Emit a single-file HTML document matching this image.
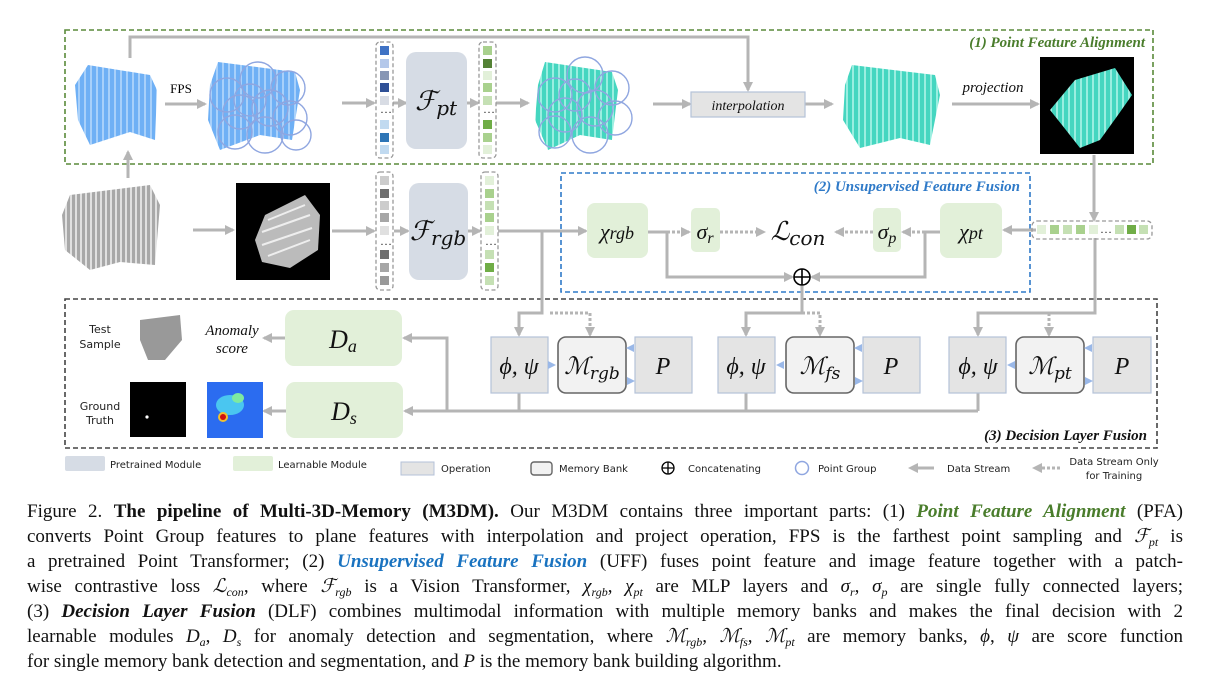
<!DOCTYPE html>
<html><head><meta charset="utf-8"><style>
body{margin:0;background:#fff;width:1209px;height:700px;overflow:hidden;position:relative}
svg{position:absolute;left:0;top:0}
.cap{position:absolute;left:27px;width:1156px;font:19px/25px "Liberation Serif",serif;color:#111;text-align:justify;text-align-last:justify;white-space:nowrap}
.cap.l{text-align-last:left}
.g{color:#4a7d2c;font-weight:bold;font-style:italic}
.b{color:#1a73c0;font-weight:bold;font-style:italic}
i{font-style:italic}
sub{font-size:12px;vertical-align:-4px;line-height:0}
</style></head><body>
<svg width="1209" height="500" viewBox="0 0 1209 500" font-family="Liberation Serif, serif">
<defs>
<marker id="a" markerWidth="10" markerHeight="10" refX="8" refY="5" orient="auto" markerUnits="userSpaceOnUse"><path d="M0,0 L10,5 L0,10z" fill="#b5b5b5"/></marker>
<pattern id="pb" width="6" height="4" patternUnits="userSpaceOnUse"><rect width="6" height="4" fill="#6fb0f5"/><rect width="2" height="4" fill="#a8d0fa"/></pattern>
<pattern id="pt" width="6" height="4" patternUnits="userSpaceOnUse"><rect width="6" height="4" fill="#45d6c0"/><rect width="2" height="4" fill="#9aeee0"/></pattern>
<pattern id="pg" width="5" height="4" patternUnits="userSpaceOnUse"><rect width="5" height="4" fill="#a8a8a8"/><rect width="2" height="4" fill="#e0e0e0"/></pattern>
</defs>
<!-- boxes -->
<rect x="65" y="30" width="1088" height="134" fill="none" stroke="#5a8a3a" stroke-width="1.6" stroke-dasharray="5,3"/>
<text x="1145" y="47" text-anchor="end" font-size="15" font-style="italic" font-weight="bold" fill="#4a7d2c">(1) Point Feature Alignment</text>
<rect x="561" y="173" width="469" height="119" fill="none" stroke="#2f7ac8" stroke-width="1.6" stroke-dasharray="5,3"/>
<text x="1020" y="191" text-anchor="end" font-size="15" font-style="italic" font-weight="bold" fill="#2f7ac8">(2) Unsupervised Feature Fusion</text>
<rect x="65" y="299" width="1092" height="149" fill="none" stroke="#444" stroke-width="1.6" stroke-dasharray="5,3"/>
<text x="1147" y="440" text-anchor="end" font-size="15" font-style="italic" font-weight="bold" fill="#111">(3) Decision Layer Fusion</text>

<g stroke="#b5b5b5" stroke-width="3" fill="none">
<!-- top -->
<path d="M130,58 V37 H748 V90" marker-end="url(#a)"/>
<path d="M128,178 V152" marker-end="url(#a)"/>
<path d="M165,104 H205" marker-end="url(#a)"/>
<path d="M342,103 H374" marker-end="url(#a)"/>
<path d="M393,103 H406" marker-end="url(#a)"/>
<path d="M466,103 H478" marker-end="url(#a)"/>
<path d="M496,103 H528" marker-end="url(#a)"/>
<path d="M653,104 H690" marker-end="url(#a)"/>
<path d="M805,104 H832" marker-end="url(#a)"/>
<path d="M952,104 H1038" marker-end="url(#a)"/>
<path d="M1094,155 V220" marker-end="url(#a)"/>
<!-- row 2 -->
<path d="M193,230 H233" marker-end="url(#a)"/>
<path d="M332,231 H374" marker-end="url(#a)"/>
<path d="M394,231 H408" marker-end="url(#a)"/>
<path d="M467,231 H480" marker-end="url(#a)"/>
<path d="M498,231 H586" marker-end="url(#a)"/>
<path d="M542,231 V313 H519 V335" marker-end="url(#a)"/>
<path d="M648,232 H667 V277 H792" marker-end="url(#a)"/>
<path d="M940,232 H925 V277 H812" marker-end="url(#a)"/>
<path d="M1036,230 H1004" marker-end="url(#a)"/>
<path d="M802,286 V313 H746 V335" marker-end="url(#a)"/>
<path d="M1095,238 V313 H978 V335" marker-end="url(#a)"/>
<!-- bottom -->
<path d="M519,393 V411 M746,393 V411 M978,393 V411"/>
<path d="M978,411 H405" marker-end="url(#a)"/>
<path d="M447,411 V338 H404" marker-end="url(#a)"/>
<path d="M285,338 H264" marker-end="url(#a)"/>
<path d="M286,411 H264" marker-end="url(#a)"/>
</g>
<g stroke="#b5b5b5" stroke-width="3" fill="none" stroke-dasharray="3,2">
<path d="M667,232 H689" marker-end="url(#a)"/>
<path d="M720,232 H764" marker-end="url(#a)"/>
<path d="M873,232 H836" marker-end="url(#a)"/>
<path d="M940,232 H903" marker-end="url(#a)"/>
<path d="M550,313 H590 V335" marker-end="url(#a)"/>
<path d="M802,313 H820 V335" marker-end="url(#a)"/>
<path d="M1049,313 V335" marker-end="url(#a)"/>
</g>

<!-- point clouds -->
<path d="M88,65 L150,75 L157,90 L155,140 L130,132 L90,145 L78,120 L75,85z" fill="url(#pb)"/>
<path d="M218,62 L295,72 L300,90 L292,140 L260,135 L220,150 L208,120 L210,85z" fill="url(#pb)"/>
<g fill="none" stroke="#8fa6e0" stroke-width="1.4">
<circle cx="227" cy="95" r="17"/><circle cx="258" cy="80" r="18"/><circle cx="288" cy="88" r="17"/><circle cx="270" cy="108" r="18"/><circle cx="240" cy="112" r="17"/><circle cx="290" cy="118" r="17"/><circle cx="235" cy="132" r="17"/><circle cx="265" cy="135" r="18"/><circle cx="296" cy="135" r="15"/><circle cx="250" cy="100" r="16"/>
</g>
<path d="M545,62 L612,72 L618,90 L612,140 L580,135 L548,150 L535,120 L538,85z" fill="url(#pt)"/>
<g fill="none" stroke="#8fa6e0" stroke-width="1.4">
<circle cx="555" cy="95" r="17"/><circle cx="585" cy="75" r="18"/><circle cx="612" cy="88" r="17"/><circle cx="595" cy="108" r="18"/><circle cx="565" cy="115" r="17"/><circle cx="615" cy="118" r="17"/><circle cx="555" cy="132" r="16"/><circle cx="590" cy="135" r="18"/><circle cx="575" cy="95" r="16"/>
</g>
<path d="M852,65 L935,75 L940,95 L930,145 L900,138 L860,148 L843,120 L845,85z" fill="url(#pt)"/>
<rect x="1040" y="57" width="94" height="97" fill="#000"/>
<path d="M1075,80 L1115,68 L1132,95 L1118,115 L1100,140 L1080,148 L1062,125 L1050,110z" fill="url(#pt)"/>
<path d="M70,195 L150,185 L160,205 L155,265 L120,262 L90,270 L65,250 L62,215z" fill="url(#pg)"/>
<rect x="236" y="183" width="94" height="97" fill="#000"/>
<path d="M265,215 L305,195 L320,215 L318,250 L290,268 L262,262 L255,240z" fill="#bbb"/>
<path d="M268,220 L305,205 M262,232 L310,215 M262,245 L312,228 M268,256 L310,240" stroke="#eee" stroke-width="2"/>
<path d="M140,320 L180,315 L182,340 L165,360 L148,360 L140,340z" fill="#999"/>
<rect x="130" y="382" width="56" height="55" fill="#000"/><circle cx="147" cy="417" r="1.6" fill="#fff"/>
<rect x="207" y="382" width="56" height="56" fill="#2b6cf0"/>
<ellipse cx="230" cy="405" rx="14" ry="10" fill="#4ac6f0"/><ellipse cx="238" cy="398" rx="6" ry="5" fill="#7ee9a0"/><circle cx="223" cy="417" r="5" fill="#f0c030"/><circle cx="223" cy="417" r="3" fill="#d01010"/>

<!-- vector columns -->
<g stroke="#999" stroke-width="1.3" stroke-dasharray="4,2.5" fill="none">
<rect x="376" y="42" width="17" height="116" rx="4"/><rect x="479" y="42" width="17" height="116" rx="4"/>
<rect x="376" y="172" width="17" height="118" rx="4"/><rect x="481" y="172" width="17" height="118" rx="4"/>
<rect x="1032" y="221" width="120" height="18" rx="5"/>
</g>
<g>
<rect x="380" y="46" width="9" height="9" fill="#3f72c4"/><rect x="380" y="59" width="9" height="9" fill="#b4c8ea"/><rect x="380" y="71" width="9" height="9" fill="#8796b4"/><rect x="380" y="83" width="9" height="9" fill="#2f5096"/><rect x="380" y="96" width="9" height="9" fill="#d8dce4"/><rect x="380" y="120" width="9" height="9" fill="#c1daf0"/><rect x="380" y="133" width="9" height="9" fill="#2e75b6"/><rect x="380" y="145" width="9" height="9" fill="#c1daf0"/>
<rect x="483" y="46" width="9" height="9" fill="#a9d18e"/><rect x="483" y="59" width="9" height="9" fill="#548235"/><rect x="483" y="71" width="9" height="9" fill="#e2f0d9"/><rect x="483" y="83" width="9" height="9" fill="#a9d18e"/><rect x="483" y="96" width="9" height="9" fill="#c5e0b4"/><rect x="483" y="120" width="9" height="9" fill="#70ad47"/><rect x="483" y="133" width="9" height="9" fill="#a9d18e"/><rect x="483" y="145" width="9" height="9" fill="#e2f0d9"/>
<rect x="380" y="176" width="9" height="9" fill="#ccc"/><rect x="380" y="189" width="9" height="9" fill="#6e6e6e"/><rect x="380" y="201" width="9" height="9" fill="#ccc"/><rect x="380" y="213" width="9" height="9" fill="#a6a6a6"/><rect x="380" y="226" width="9" height="9" fill="#e0e0e0"/><rect x="380" y="250" width="9" height="9" fill="#6e6e6e"/><rect x="380" y="263" width="9" height="9" fill="#a6a6a6"/><rect x="380" y="276" width="9" height="9" fill="#999"/>
<rect x="485" y="176" width="9" height="9" fill="#e2f0d9"/><rect x="485" y="189" width="9" height="9" fill="#a9d18e"/><rect x="485" y="201" width="9" height="9" fill="#c5e0b4"/><rect x="485" y="213" width="9" height="9" fill="#a9d18e"/><rect x="485" y="226" width="9" height="9" fill="#e2f0d9"/><rect x="485" y="250" width="9" height="9" fill="#c5e0b4"/><rect x="485" y="263" width="9" height="9" fill="#70ad47"/><rect x="485" y="276" width="9" height="9" fill="#c5e0b4"/>
<rect x="1037" y="225" width="9" height="9" fill="#e2f0d9"/><rect x="1050" y="225" width="9" height="9" fill="#a9d18e"/><rect x="1063" y="225" width="9" height="9" fill="#c5e0b4"/><rect x="1076" y="225" width="9" height="9" fill="#a9d18e"/><rect x="1089" y="225" width="9" height="9" fill="#e2f0d9"/><rect x="1115" y="225" width="9" height="9" fill="#c5e0b4"/><rect x="1127" y="225" width="9" height="9" fill="#70ad47"/><rect x="1139" y="225" width="9" height="9" fill="#c5e0b4"/>
</g>
<g font-size="12" fill="#222"><text x="380" y="113">…</text><text x="483" y="113">…</text><text x="380" y="245">…</text><text x="485" y="245">…</text><text x="1100" y="233">…</text></g>

<!-- module boxes -->
<rect x="406" y="52" width="61" height="97" rx="10" fill="#d6dce5"/>
<rect x="409" y="183" width="59" height="97" rx="10" fill="#d6dce5"/>
<g fill="#e2f0d9">
<rect x="587" y="203" width="61" height="55" rx="8"/><rect x="691" y="208" width="29" height="44" rx="5"/><rect x="873" y="208" width="28" height="44" rx="5"/><rect x="940" y="203" width="62" height="55" rx="8"/>
<rect x="285" y="310" width="117" height="56" rx="9"/><rect x="286" y="382" width="117" height="56" rx="9"/>
</g>
<rect x="691" y="92" width="114" height="25" fill="#e4e4e4" stroke="#b4c2d8" stroke-width="1.2"/>
<g fill="#e4e4e4" stroke="#b4c2d8" stroke-width="1.2">
<rect x="491" y="337" width="57" height="56"/><rect x="635" y="337" width="57" height="56"/><rect x="718" y="337" width="57" height="56"/><rect x="863" y="337" width="57" height="56"/><rect x="949" y="337" width="57" height="56"/><rect x="1093" y="337" width="58" height="56"/>
</g>
<g fill="#f2f2f2" stroke="#666" stroke-width="1.6">
<rect x="558" y="337" width="68" height="56" rx="8"/><rect x="786" y="337" width="68" height="56" rx="8"/><rect x="1016" y="337" width="68" height="56" rx="8"/>
</g>
<g fill="#9ab8e8">
<path d="M626,348 l8,-4 v8z"/><path d="M635,381 l-8,-4 v8z"/><path d="M548,365 l8,-4 v8z" transform="rotate(180 552 365)"/>
<path d="M854,348 l8,-4 v8z"/><path d="M863,381 l-8,-4 v8z"/><path d="M776,361 l8,4 l-8,4z" transform="rotate(180 780 365)"/>
<path d="M1084,348 l8,-4 v8z"/><path d="M1093,381 l-8,-4 v8z"/><path d="M1007,361 l8,4 l-8,4z" transform="rotate(180 1011 365)"/>
</g>
<circle cx="802" cy="277" r="8" fill="#fff" stroke="#000" stroke-width="1.6"/><path d="M794,277 H810 M802,269 V285" stroke="#000" stroke-width="1.6"/>

<!-- labels -->
<g font-style="italic" fill="#111">
<text x="436" y="110" font-size="27" text-anchor="middle" font-family="DejaVu Serif, serif">ℱ<tspan font-size="20" dy="5">pt</tspan></text>
<text x="438" y="240" font-size="27" text-anchor="middle" font-family="DejaVu Serif, serif">ℱ<tspan font-size="20" dy="5">rgb</tspan></text>
<text x="617" y="239" font-size="22" text-anchor="middle">χ<tspan font-size="18">rgb</tspan></text>
<text x="705" y="239" font-size="22" text-anchor="middle">σ<tspan font-size="16" dy="4">r</tspan></text>
<text x="798" y="240" font-size="26" text-anchor="middle" font-family="DejaVu Serif, serif">ℒ<tspan font-size="20" dy="5">con</tspan></text>
<text x="887" y="239" font-size="22" text-anchor="middle">σ<tspan font-size="16" dy="4">p</tspan></text>
<text x="971" y="239" font-size="22" text-anchor="middle">χ<tspan font-size="18">pt</tspan></text>
<text x="748" y="110" font-size="14" text-anchor="middle">interpolation</text>
<text x="993" y="92" font-size="15" text-anchor="middle">projection</text>
<text x="232" y="335" font-size="15" text-anchor="middle">Anomaly</text>
<text x="232" y="353" font-size="15" text-anchor="middle">score</text>
<text x="343" y="348" font-size="26" text-anchor="middle">D<tspan font-size="18" dy="4">a</tspan></text>
<text x="344" y="420" font-size="26" text-anchor="middle">D<tspan font-size="18" dy="4">s</tspan></text>
<text x="519" y="374" font-size="24" text-anchor="middle">ϕ, ψ</text>
<text x="746" y="374" font-size="24" text-anchor="middle">ϕ, ψ</text>
<text x="978" y="374" font-size="24" text-anchor="middle">ϕ, ψ</text>
<text x="592" y="374" font-size="24" text-anchor="middle" font-family="DejaVu Serif, serif">ℳ<tspan font-size="17" dy="5">rgb</tspan></text>
<text x="820" y="374" font-size="24" text-anchor="middle" font-family="DejaVu Serif, serif">ℳ<tspan font-size="17" dy="5">fs</tspan></text>
<text x="1050" y="374" font-size="24" text-anchor="middle" font-family="DejaVu Serif, serif">ℳ<tspan font-size="17" dy="5">pt</tspan></text>
<text x="663" y="374" font-size="24" text-anchor="middle">P</text><text x="891" y="374" font-size="24" text-anchor="middle">P</text><text x="1122" y="374" font-size="24" text-anchor="middle">P</text>
</g>
<text x="181" y="93" font-size="13" text-anchor="middle">FPS</text>
<g font-family="DejaVu Sans, sans-serif" font-size="11" fill="#222">
<text x="100" y="333" text-anchor="middle">Test</text><text x="100" y="348" text-anchor="middle">Sample</text>
<text x="100" y="410" text-anchor="middle">Ground</text><text x="100" y="424" text-anchor="middle">Truth</text>
</g>
<!-- legend -->
<g font-family="DejaVu Sans, sans-serif" font-size="10" fill="#222">
<rect x="65" y="456" width="40" height="15" rx="2" fill="#d6dce5"/><text x="110" y="468">Pretrained Module</text>
<rect x="233" y="456" width="40" height="15" rx="2" fill="#e2f0d9"/><text x="278" y="468">Learnable Module</text>
<rect x="401" y="462" width="33" height="13" fill="#e4e4e4" stroke="#b4c2d8"/><text x="441" y="472">Operation</text>
<rect x="531" y="462" width="21" height="13" rx="3" fill="#f2f2f2" stroke="#666" stroke-width="1.4"/><text x="559" y="472">Memory Bank</text>
<circle cx="668" cy="468" r="6" fill="none" stroke="#000" stroke-width="1.3"/><path d="M662,468 H674 M668,462 V474" stroke="#000" stroke-width="1.3"/><text x="688" y="472">Concatenating</text>
<circle cx="802" cy="468" r="6.5" fill="none" stroke="#8fa6e0" stroke-width="1.5"/><text x="818" y="472">Point Group</text>
<path d="M934,468 H918" stroke="#b5b5b5" stroke-width="3"/><path d="M908,468 l10,-5 v10z" fill="#b5b5b5"/><text x="947" y="472">Data Stream</text>
<path d="M1060,468 H1042" stroke="#b5b5b5" stroke-width="3" stroke-dasharray="3,2"/><path d="M1032,468 l10,-5 v10z" fill="#b5b5b5"/>
<text x="1114" y="465" text-anchor="middle">Data Stream Only</text><text x="1114" y="479" text-anchor="middle">for Training</text>
</g>
</svg>
<div class="cap" style="top:499px">Figure 2. <b>The pipeline of Multi-3D-Memory (M3DM).</b> Our M3DM contains three important parts: (1) <span class="g">Point Feature Alignment</span> (PFA)</div>
<div class="cap" style="top:524px">converts Point Group features to plane features with interpolation and project operation, FPS is the farthest point sampling and <i>ℱ<sub>pt</sub></i> is</div>
<div class="cap" style="top:549px">a pretrained Point Transformer; (2) <span class="b">Unsupervised Feature Fusion</span> (UFF) fuses point feature and image feature together with a patch-</div>
<div class="cap" style="top:574px">wise contrastive loss <i>ℒ<sub>con</sub></i>, where <i>ℱ<sub>rgb</sub></i> is a Vision Transformer, <i>χ<sub>rgb</sub></i>, <i>χ<sub>pt</sub></i> are MLP layers and <i>σ<sub>r</sub></i>, <i>σ<sub>p</sub></i> are single fully connected layers;</div>
<div class="cap" style="top:599px">(3) <b><i>Decision Layer Fusion</i></b> (DLF) combines multimodal information with multiple memory banks and makes the final decision with 2</div>
<div class="cap" style="top:624px">learnable modules <i>D<sub>a</sub></i>, <i>D<sub>s</sub></i> for anomaly detection and segmentation, where <i>ℳ<sub>rgb</sub></i>, <i>ℳ<sub>fs</sub></i>, <i>ℳ<sub>pt</sub></i> are memory banks, <i>ϕ</i>, <i>ψ</i> are score function</div>
<div class="cap l" style="top:649px">for single memory bank detection and segmentation, and <i>P</i> is the memory bank building algorithm.</div>
</body></html>
